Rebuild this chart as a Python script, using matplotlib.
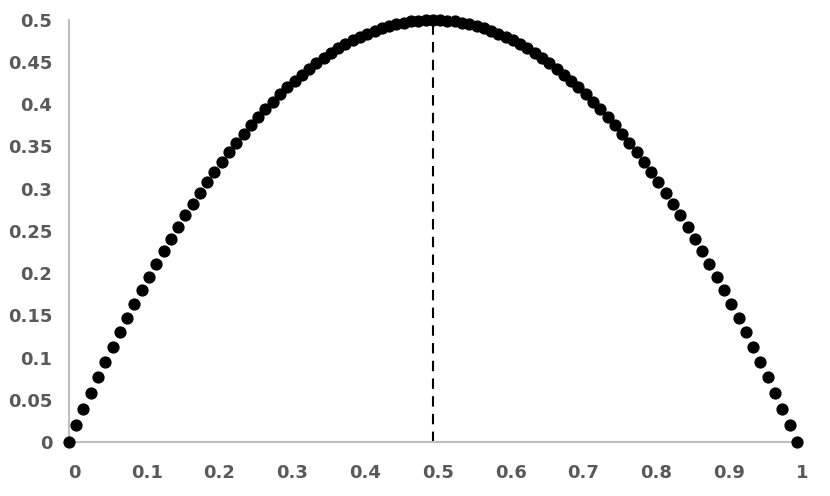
import matplotlib.pyplot as plt
import matplotlib.transforms as mtransforms

# x values (step 0.01) and y values
x_vals = [0.00, 0.01, 0.02, 0.03, 0.04, 0.05, 0.06, 0.07, 0.08, 0.09,
          0.10, 0.11, 0.12, 0.13, 0.14, 0.15, 0.16, 0.17, 0.18, 0.19,
          0.20, 0.21, 0.22, 0.23, 0.24, 0.25, 0.26, 0.27, 0.28, 0.29,
          0.30, 0.31, 0.32, 0.33, 0.34, 0.35, 0.36, 0.37, 0.38, 0.39,
          0.40, 0.41, 0.42, 0.43, 0.44, 0.45, 0.46, 0.47, 0.48, 0.49,
          0.50, 0.51, 0.52, 0.53, 0.54, 0.55, 0.56, 0.57, 0.58, 0.59,
          0.60, 0.61, 0.62, 0.63, 0.64, 0.65, 0.66, 0.67, 0.68, 0.69,
          0.70, 0.71, 0.72, 0.73, 0.74, 0.75, 0.76, 0.77, 0.78, 0.79,
          0.80, 0.81, 0.82, 0.83, 0.84, 0.85, 0.86, 0.87, 0.88, 0.89,
          0.90, 0.91, 0.92, 0.93, 0.94, 0.95, 0.96, 0.97, 0.98, 0.99, 1.00]
y_vals = [0.0, 0.0198, 0.0392, 0.0582, 0.0768, 0.095, 0.1128, 0.1302, 0.1472, 0.1638,
          0.18, 0.1958, 0.2112, 0.2262, 0.2408, 0.255, 0.2688, 0.2822, 0.2952, 0.3078,
          0.32, 0.3318, 0.3432, 0.3542, 0.3648, 0.375, 0.3848, 0.3942, 0.4032, 0.4118,
          0.42, 0.4278, 0.4352, 0.4422, 0.4488, 0.455, 0.4608, 0.4662, 0.4712, 0.4758,
          0.48, 0.4838, 0.4872, 0.4902, 0.4928, 0.495, 0.4968, 0.4982, 0.4992, 0.4998,
          0.5, 0.4998, 0.4992, 0.4982, 0.4968, 0.495, 0.4928, 0.4902, 0.4872, 0.4838,
          0.48, 0.4758, 0.4712, 0.4662, 0.4608, 0.455, 0.4488, 0.4422, 0.4352, 0.4278,
          0.42, 0.4118, 0.4032, 0.3942, 0.3848, 0.375, 0.3648, 0.3542, 0.3432, 0.3318,
          0.32, 0.3078, 0.2952, 0.2822, 0.2688, 0.255, 0.2408, 0.2262, 0.2112, 0.1958,
          0.18, 0.1638, 0.1472, 0.1302, 0.1128, 0.095, 0.0768, 0.0582, 0.0392, 0.0198, 0.0]

x_ticks = [0, 0.1, 0.2, 0.3, 0.4, 0.5, 0.6, 0.7, 0.8, 0.9, 1]
x_labels = ["0", "0.1", "0.2", "0.3", "0.4", "0.5", "0.6", "0.7", "0.8", "0.9", "1"]
y_ticks = [0, 0.05, 0.1, 0.15, 0.2, 0.25, 0.3, 0.35, 0.4, 0.45, 0.5]
y_labels = ["0", "0.05", "0.1", "0.15", "0.2", "0.25", "0.3", "0.35", "0.4", "0.45", "0.5"]
peak_x = 0.5

fig, ax = plt.subplots(figsize=(8.3, 4.96), dpi=100)
fig.subplots_adjust(left=0.083, right=0.960, top=0.960, bottom=0.109)

ax.plot([peak_x, peak_x], [0, max(y_vals)], color="black", linestyle=(0, (5, 3.5)),
        linewidth=1.5, zorder=2)
ax.plot(x_vals, y_vals, "o", color="black", markersize=7.8, clip_on=False, zorder=3)

ax.set_xlim(0, 1)
ax.set_ylim(0, 0.5)
ax.set_xticks(x_ticks)
ax.set_xticklabels(x_labels)
ax.set_yticks(y_ticks)
ax.set_yticklabels(y_labels)

for side in ["top", "right"]:
    ax.spines[side].set_visible(False)
for side in ["left", "bottom"]:
    ax.spines[side].set_color("#bfbfbf")
    ax.spines[side].set_linewidth(1.5)

ax.tick_params(axis="both", length=0, labelsize=13, labelcolor="#595959")
ax.tick_params(axis="x", pad=16)
ax.tick_params(axis="y", pad=12)
# x labels sit a few pixels right of their ticks in the original
shift = mtransforms.ScaledTranslation(5 / 100, 0, fig.dpi_scale_trans)
for lbl in ax.get_xticklabels():
    lbl.set_transform(lbl.get_transform() + shift)
for lbl in ax.get_xticklabels() + ax.get_yticklabels():
    lbl.set_fontweight("bold")

plt.savefig("out.png", dpi=100)
